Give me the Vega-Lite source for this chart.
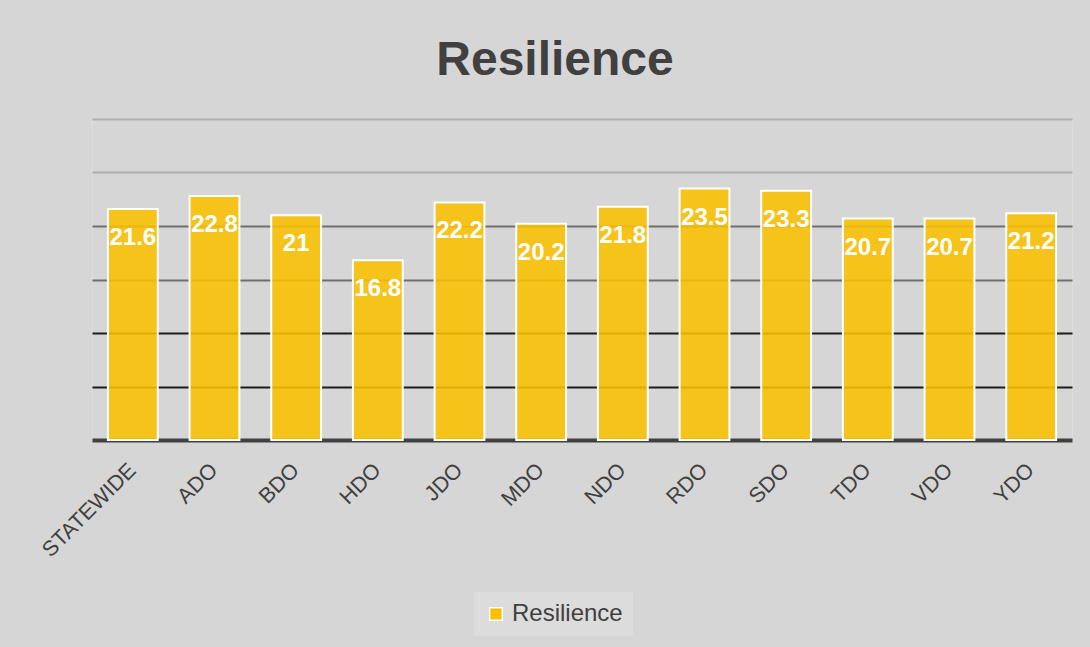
{
  "$schema": "https://vega.github.io/schema/vega-lite/v6.json",
  "width": 980,
  "height": 321,
  "autosize": {"type": "none"},
  "padding": {"left": 92, "top": 119, "right": 18, "bottom": 207},
  "background": "#d6d6d6",
  "title": {
    "text": "Resilience",
    "font": "Liberation Sans",
    "fontSize": 48,
    "fontWeight": "bold",
    "color": "#404040",
    "anchor": "middle",
    "baseline": "alphabetic",
    "offset": -4,
    "dx": -27
  },
  "data": {
    "values": [
      {"region": "STATEWIDE", "value": 21.6},
      {"region": "ADO", "value": 22.8},
      {"region": "BDO", "value": 21},
      {"region": "HDO", "value": 16.8},
      {"region": "JDO", "value": 22.2},
      {"region": "MDO", "value": 20.2},
      {"region": "NDO", "value": 21.8},
      {"region": "RDO", "value": 23.5},
      {"region": "SDO", "value": 23.3},
      {"region": "TDO", "value": 20.7},
      {"region": "VDO", "value": 20.7},
      {"region": "YDO", "value": 21.2}
    ]
  },
  "encoding": {
    "x": {
      "field": "region",
      "type": "nominal",
      "sort": null,
      "scale": {"paddingInner": 0.39, "paddingOuter": 0.195},
      "axis": {
        "title": null,
        "labelAngle": -45,
        "labelAlign": "right",
        "labelBaseline": "middle",
        "labelFont": "Liberation Sans",
        "labelFontSize": 21.5,
        "labelColor": "#404040",
        "labelPadding": 27,
        "ticks": false,
        "domainColor": "#404040",
        "domainWidth": 4
      }
    },
    "y": {
      "field": "value",
      "type": "quantitative",
      "scale": {"domain": [0, 30], "nice": false},
      "axis": {
        "title": null,
        "labels": false,
        "ticks": false,
        "domain": false,
        "values": [5, 10, 15, 20, 25, 30],
        "grid": true,
        "gridWidth": 2,
        "gridColor": {
          "condition": [
            {"test": "datum.value >= 25", "value": "#aeaeae"},
            {"test": "datum.value >= 15", "value": "#6e6e6e"}
          ],
          "value": "#1c1c1c"
        }
      }
    }
  },
  "layer": [
    {
      "mark": {
        "type": "bar",
        "fillOpacity": 0.88,
        "stroke": "white",
        "strokeWidth": 2
      },
      "encoding": {
        "color": {
          "datum": "Resilience",
          "type": "nominal",
          "scale": {"range": ["#F9C000"]},
          "legend": {
            "title": null,
            "orient": "none",
            "legendX": 382,
            "legendY": 473,
            "fillColor": "#dcdcdc",
            "padding": 10,
            "symbolType": "square",
            "symbolSize": 160,
            "symbolStrokeColor": "white",
            "symbolStrokeWidth": 1.5,
            "symbolFillColor": "#F9C000",
            "symbolOpacity": 1,
            "labelFont": "Liberation Sans",
            "labelFontSize": 24,
            "labelColor": "#404040",
            "labelOffset": 4
          }
        }
      }
    },
    {
      "mark": {
        "type": "text",
        "font": "Liberation Sans",
        "fontSize": 24,
        "fontWeight": "bold",
        "color": "white",
        "baseline": "alphabetic",
        "dy": 36
      },
      "encoding": {
        "text": {"field": "value", "type": "quantitative"}
      }
    }
  ]
}
